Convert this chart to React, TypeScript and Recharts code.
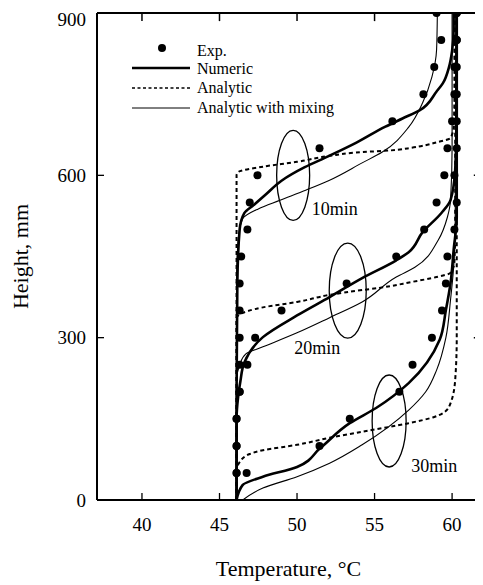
import { ComposedChart, Line, XAxis, YAxis, ReferenceDot, ReferenceLine } from 'recharts';

const FONT = '"Liberation Serif", "Times New Roman", Times, serif';

// every profile is [temperature °C, height mm], ordered bottom to top
const numeric10 = [
  [46.1, 0], [46.1, 200], [46.15, 400], [46.3, 500], [46.6, 530], [47.2, 545], [48.0, 565],
  [49.0, 590], [50.5, 615], [52.0, 635], [53.8, 660], [55.7, 690], [56.8, 705], [57.9, 720],
  [59.0, 755], [59.4, 770], [59.8, 800], [60.0, 830], [60.1, 870], [60.1, 900],
];
const analytic10 = [
  [46.1, 0], [46.1, 600], [46.2, 606], [47.8, 616], [50.0, 625], [52.1, 636], [54.2, 643],
  [56.0, 646], [57.4, 651], [59.0, 661], [59.9, 669], [60.1, 690], [60.15, 750], [60.15, 900],
];
const mixing10 = [
  [46.1, 0], [46.1, 400], [46.2, 480], [46.5, 520], [47.5, 538], [48.9, 554], [50.6, 573],
  [52.1, 591], [54.2, 623], [55.5, 643], [57.2, 689], [58.1, 734], [58.7, 782], [59.0, 832], [59.05, 900],
];

const numeric20 = [
  [46.1, 0], [46.1, 150], [46.2, 190], [46.35, 220], [46.6, 254], [47.8, 301], [50.0, 341],
  [52.1, 375], [54.2, 410], [56.4, 443], [57.2, 458], [58.1, 495], [59.3, 530], [59.9, 554],
  [60.2, 610], [60.3, 700], [60.3, 900],
];
const analytic20 = [
  [46.1, 0], [46.1, 336], [46.3, 343], [47.8, 356], [50.0, 366], [52.1, 379], [54.2, 388],
  [55.3, 392], [57.4, 403], [59.0, 412], [59.9, 420], [60.15, 440], [60.2, 500], [60.2, 900],
];
const mixing20 = [
  [46.1, 0], [46.1, 220], [46.3, 250], [46.7, 270], [47.8, 283], [50.0, 309], [52.1, 337],
  [54.2, 366], [56.4, 412], [57.6, 430], [59.1, 480], [59.7, 523], [59.9, 554], [60.0, 650], [60.0, 900],
];

const numeric30 = [
  [46.1, 0], [46.5, 28], [47.8, 43], [50.0, 61], [51.5, 96], [53.4, 142], [55.1, 170],
  [57.2, 216], [59.2, 296], [59.6, 351], [59.9, 401], [60.1, 462], [60.3, 523], [60.3, 900],
];
const analytic30 = [
  [46.1, 0], [46.1, 55], [46.3, 70], [46.95, 85], [47.8, 92], [50.0, 102], [52.1, 115],
  [54.2, 126], [57.2, 142], [58.8, 153], [59.8, 172], [60.2, 222], [60.3, 300], [60.3, 900],
];
const mixing30 = [
  [46.5, 0], [47.8, 22], [50.0, 43], [52.1, 68], [54.2, 102], [57.2, 166], [58.3, 200],
  [59.0, 240], [59.6, 300], [59.9, 370], [60.1, 430], [60.2, 500], [60.25, 900],
];

// measured points, heights every 50 mm
const expHeights = [50, 100, 150, 200, 250, 300, 350, 400, 450, 500, 550, 600, 650, 700, 750, 800, 850, 900];
const exp10Temps = [46.1, 46.1, 46.1, 46.3, 46.3, 46.3, 46.3, 46.3, 46.4, 46.8, 46.95, 47.45, 51.45, 56.15, 58.15, 58.85, 59.3, 59.0];
const exp20Temps = [46.1, 46.1, 46.1, 46.3, 46.8, 47.3, 49.0, 53.2, 56.4, 58.2, 59.0, 59.5, 59.7, 60.0, 60.15, 60.15, 60.3, 60.3];
const exp30Temps = [46.75, 51.45, 53.4, 56.6, 57.45, 58.7, 59.35, 59.6, 59.7, 60.15, 60.3, 60.15, 60.3, 60.3, 60.3, 60.3, 60.3, 60.3];

const X_MIN = 37.1;
const X_MAX = 61.8;
const Y_MAX = 900;
const xTicks = [40, 45, 50, 55, 60];
const topTicks = [40, 45, 50, 55];
const yTicks = [0, 300, 600, 900];
const rightTicks = [300, 600];

// time labels with the ellipse that marks each group: [T, H, label]
const groups: [number, number, string][] = [
  [49.75, 600, '10min'],
  [53.27, 387, '20min'],
  [55.94, 146, '30min'],
];

const pts = (arr: number[][]) => arr.map(([t, h]) => ({ t, h }));
const expPts = (temps: number[]) => temps.map((t, i) => ({ t, h: expHeights[i] }));

const ring = (rx: number, ry: number, label: string, dx: number, dy: number) => (props: any) => (
  <g>
    <ellipse cx={props.cx} cy={props.cy} rx={rx} ry={ry} fill="none" stroke="#000" strokeWidth={1.3} />
    <text x={props.cx + dx} y={props.cy + dy} fontFamily={FONT} fontSize={18} fill="#000">{label}</text>
  </g>
);
const ringStyle: Record<string, [number, number, number, number]> = {
  '10min': [16.5, 45, 18.5, 40],
  '20min': [18.5, 47.5, -53.5, 63.5],
  '30min': [17, 46, 22, 51],
};

const LegendBox = () => (
  <svg width={230} height={84} style={{ display: 'block' }}>
    <g fontFamily={FONT} fontSize={16} fill="#000">
      <circle cx={38} cy={12} r={4} fill="#000" />
      <text x={73} y={20}>Exp.</text>
      <line x1={8} x2={66} y1={32} y2={32} stroke="#000" strokeWidth={2.5} />
      <text x={73} y={38}>Numeric</text>
      <line x1={8} x2={66} y1={52} y2={52} stroke="#000" strokeWidth={1.6} strokeDasharray="3 2.5" />
      <text x={73} y={57}>Analytic</text>
      <line x1={8} x2={66} y1={72} y2={72} stroke="#000" strokeWidth={1} />
      <text x={73} y={77}>Analytic with mixing</text>
    </g>
  </svg>
);

const numericStyle = { stroke: '#000', strokeWidth: 2.6 };
const analyticStyle = { stroke: '#000', strokeWidth: 2, strokeDasharray: '4 3' };
const mixingStyle = { stroke: '#000', strokeWidth: 1.1 };

export default function App() {
  const tickFont = { fontSize: 19, fill: '#000', fontFamily: FONT };
  const curves = [
    { data: numeric10, s: numericStyle }, { data: analytic10, s: analyticStyle }, { data: mixing10, s: mixingStyle },
    { data: numeric20, s: numericStyle }, { data: analytic20, s: analyticStyle }, { data: mixing20, s: mixingStyle },
    { data: numeric30, s: numericStyle }, { data: analytic30, s: analyticStyle }, { data: mixing30, s: mixingStyle },
  ];
  return (
    <div style={{ position: 'relative', width: 475, height: 577, background: '#fff' }}>
      <ComposedChart width={475} height={577} margin={{ top: 5, right: 3, left: 0, bottom: 5 }}>
        <XAxis
          dataKey="t"
          type="number"
          domain={[X_MIN, X_MAX]}
          allowDataOverflow
          ticks={xTicks}
          tickSize={-7}
          tickMargin={25}
          height={80}
          tick={tickFont}
          axisLine={{ stroke: '#000', strokeWidth: 2 }}
          tickLine={{ stroke: '#000', strokeWidth: 1.3 }}
          label={{ value: 'Temperature, °C', position: 'insideBottom', offset: 4, style: { fontSize: 22, fontFamily: FONT, fill: '#000' } }}
        />
        <YAxis
          type="number"
          domain={[0, Y_MAX]}
          allowDataOverflow
          ticks={yTicks}
          tickSize={-7}
          tickMargin={18}
          width={89}
          tick={tickFont}
          axisLine={{ stroke: '#000', strokeWidth: 2 }}
          tickLine={{ stroke: '#000', strokeWidth: 1.3 }}
          label={{ value: 'Height, mm', angle: -90, position: 'insideLeft', offset: 12, style: { fontSize: 22, fontFamily: FONT, fill: '#000', textAnchor: 'middle' } }}
        />
        {/* top and right edges of the frame with their inward ticks */}
        <ReferenceLine y={Y_MAX} stroke="#000" strokeWidth={2} ifOverflow="visible" />
        <ReferenceLine x={X_MAX} stroke="#000" strokeWidth={2} strokeDasharray="2 1.5" ifOverflow="visible" />
        {topTicks.map((t) => (
          <ReferenceLine key={`tt-${t}`} ifOverflow="visible" segment={[{ x: t, y: Y_MAX }, { x: t, y: Y_MAX - 15 }]} stroke="#000" strokeWidth={1.5} />
        ))}
        {rightTicks.map((h) => (
          <ReferenceLine key={`rt-${h}`} ifOverflow="visible" segment={[{ x: X_MAX, y: h }, { x: X_MAX - 0.4, y: h }]} stroke="#000" strokeWidth={1.5} />
        ))}
        {curves.map((c, i) => (
          <Line
            key={`curve-${i}`}
            data={pts(c.data)}
            dataKey="h"
            type="monotoneY"
            dot={false}
            activeDot={false}
            fill="none"
            isAnimationActive={false}
            {...c.s}
          />
        ))}
        {[exp10Temps, exp20Temps, exp30Temps].map((temps, i) => (
          <Line
            key={`exp-${i}`}
            data={expPts(temps)}
            dataKey="h"
            stroke="none"
            dot={{ r: 4, fill: '#000', stroke: 'none' }}
            activeDot={false}
            isAnimationActive={false}
          />
        ))}
        {groups.map(([t, h, label]) => {
          const [rx, ry, dx, dy] = ringStyle[label];
          return <ReferenceDot key={label} x={t} y={h} r={1} shape={ring(rx, ry, label, dx, dy)} />;
        })}
      </ComposedChart>
      {/* right frame edge, dotted as in the scanned figure */}
      <div style={{ position: 'absolute', left: 471, top: 5, width: 0, height: 487, borderLeft: '1.5px dotted #000' }} />
      <div style={{ position: 'absolute', left: 116, top: 28 }}>
        <LegendBox />
      </div>
    </div>
  );
}
